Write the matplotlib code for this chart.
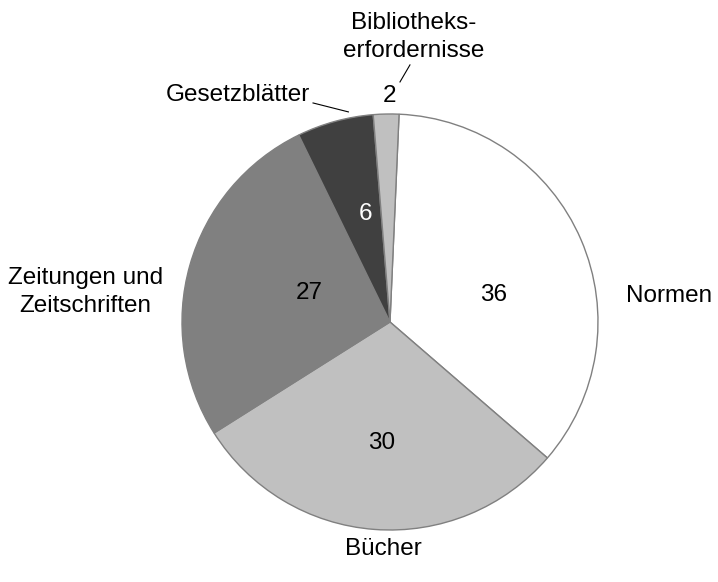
import matplotlib
matplotlib.use("Agg")
import matplotlib.pyplot as plt

categories = ["Normen", "Bücher", "Zeitungen und\nZeitschriften", "Gesetzblätter", "Bibliotheks-\nerfordernisse"]
values = [36, 30, 27, 6, 2]
colors = ["#ffffff", "#c0c0c0", "#808080", "#404040", "#c0c0c0"]
value_colors = ["black", "black", "black", "white", "black"]

# layout (pie-radius units)
value_pos = [(0.50, 0.13), (-0.04, -0.58), (-0.39, 0.14), (-0.12, 0.52), (0.0, 1.085)]
cat_pos = [(1.34, 0.125), (-0.03, -1.09), (-1.466, 0.145), (-0.731, 1.09), (0.115, 1.37)]
leaders = {3: ((-0.37, 1.053), (-0.20, 1.010)), 4: ((0.096, 1.236), (0.048, 1.154))}

plt.rcParams['font.family'] = ['Liberation Sans', 'DejaVu Sans']
fig = plt.figure(figsize=(7.18, 5.82), dpi=100)
ax = fig.add_axes([0, 0, 1, 1])
ax.pie(values, colors=colors, startangle=87.5, counterclock=False,
       wedgeprops=dict(edgecolor="#808080", linewidth=1.0))
ax.set_xlim(-1.875, 1.577)
ax.set_ylim(-1.25, 1.548)
ax.set_aspect('auto')
ax.axis('off')

fs = 17.5
for i, (v, c) in enumerate(zip(values, value_colors)):
    x, y = value_pos[i]
    ax.text(x, y, str(v), color=c, fontsize=fs, ha='center', va='center')
for i, cat in enumerate(categories):
    x, y = cat_pos[i]
    ax.text(x, y, cat, fontsize=fs, ha='center', va='center', linespacing=1.35)
for i, (p0, p1) in leaders.items():
    ax.plot([p0[0], p1[0]], [p0[1], p1[1]], color="black", linewidth=0.8)

fig.savefig("out.png", dpi=100)
